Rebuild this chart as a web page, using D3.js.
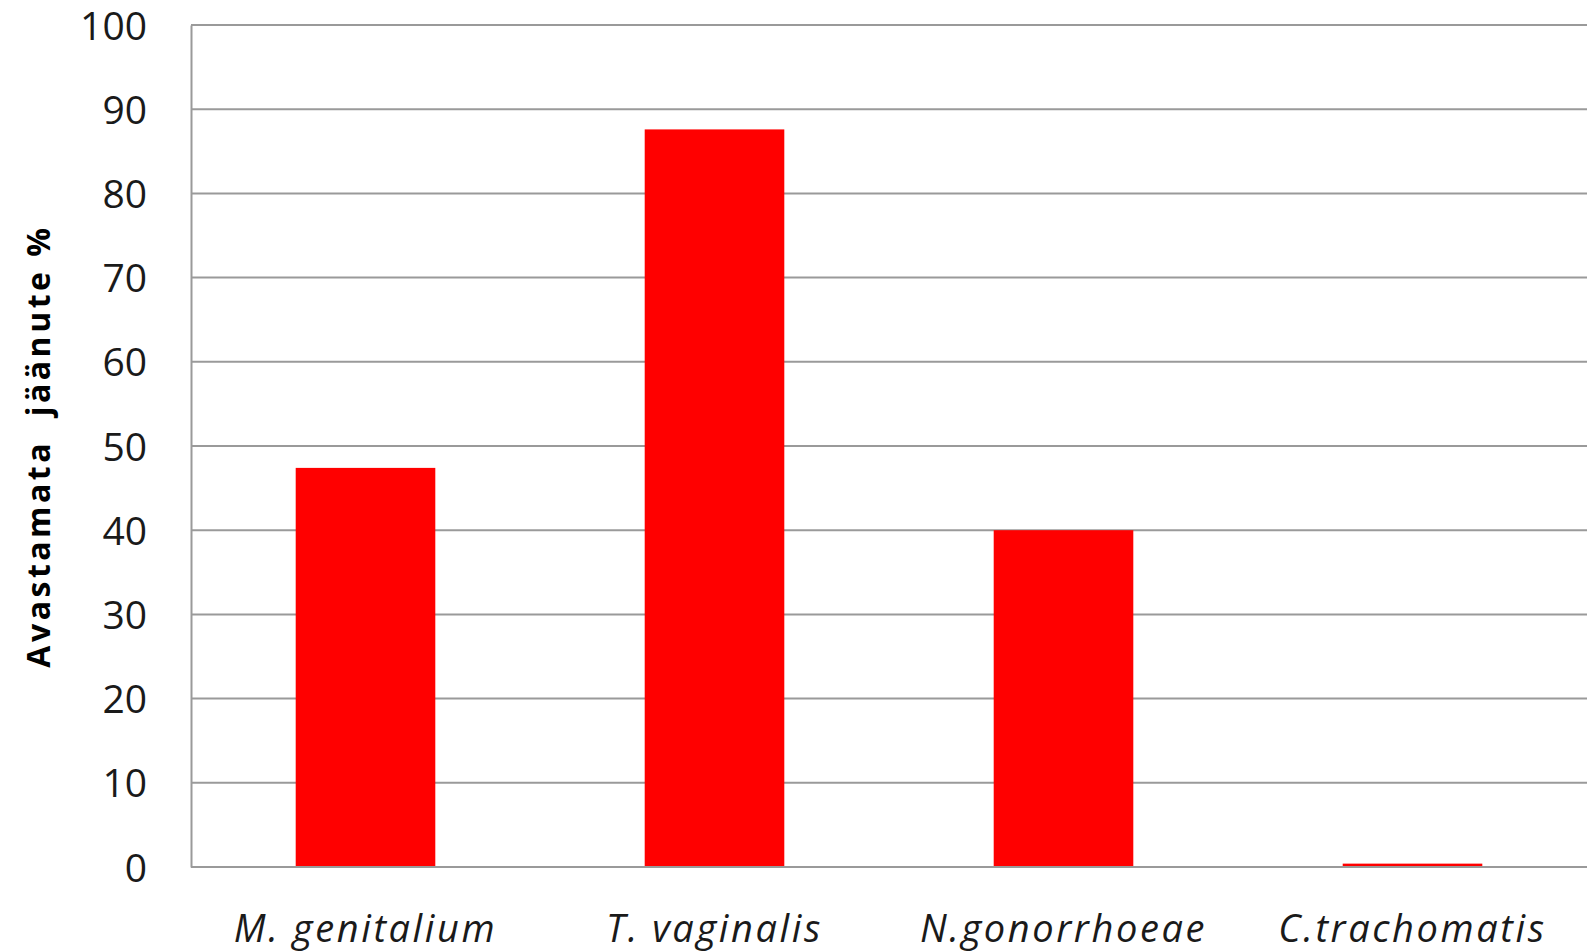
<!DOCTYPE html>
<html>
<head>
<meta charset="utf-8">
<script src="https://cdn.jsdelivr.net/npm/d3@7"></script>
<style>
  html, body { margin: 0; padding: 0; background: #fff; }
  svg { display: block; }
</style>
</head>
<body>
<svg id="chart" width="1589" height="952"></svg>
<script>
const categories = ["M. genitalium", "T. vaginalis", "N.gonorrhoeae", "C.trachomatis"];
const values = [47.4, 87.6, 40.0, 0.4];
const yTicks = [0, 10, 20, 30, 40, 50, 60, 70, 80, 90, 100];
const yTitle = "Avastamata\u00a0\u00a0jäänute %";

const svg = d3.select("#chart");
const plotLeft = 191, plotRight = 1587, plotTop = 25, plotBottom = 867;

const x = d3.scaleBand().domain(categories).range([plotLeft, plotRight]).paddingInner(0.6).paddingOuter(0.3);
const y = d3.scaleLinear().domain([0, 100]).range([plotBottom, plotTop]);

// gridlines
svg.append("g")
  .selectAll("line")
  .data(yTicks.filter(d => d > 0))
  .join("line")
  .attr("x1", plotLeft).attr("x2", plotRight)
  .attr("y1", d => y(d)).attr("y2", d => y(d))
  .attr("stroke", "#9a9a9a").attr("stroke-width", 2);

// bars
svg.append("g")
  .selectAll("rect")
  .data(categories)
  .join("rect")
  .attr("x", d => x(d))
  .attr("width", x.bandwidth())
  .attr("y", (d, i) => y(values[i]))
  .attr("height", (d, i) => y(0) - y(values[i]))
  .attr("fill", "#ff0000");

// y axis
const yAxis = svg.append("g")
  .attr("transform", `translate(${plotLeft},0)`)
  .call(d3.axisLeft(y).tickValues(yTicks).tickSize(0).tickPadding(44));
yAxis.select(".domain").attr("stroke", "#9a9a9a").attr("stroke-width", 2);
yAxis.selectAll("text")
  .attr("font-family", "'Open Sans', sans-serif")
  .attr("font-size", 39)
  .attr("fill", "#1a1a1a")
  .attr("dy", "0.36em");

// x axis
const xAxis = svg.append("g")
  .attr("transform", `translate(0,${plotBottom})`)
  .call(d3.axisBottom(x).tickSize(0).tickPadding(0));
xAxis.select(".domain").attr("stroke", "#9a9a9a").attr("stroke-width", 2)
  .attr("d", `M${plotLeft},0H${plotRight}`);
xAxis.selectAll("text")
  .attr("font-family", "'Open Sans', sans-serif")
  .attr("font-style", "italic")
  .attr("font-size", 38)
  .attr("letter-spacing", 2.6)
  .attr("fill", "#1a1a1a")
  .attr("dy", null)
  .attr("y", 75);

// y title
svg.append("text")
  .attr("transform", `translate(50,446) rotate(-90)`)
  .attr("text-anchor", "middle")
  .attr("font-family", "'Open Sans', sans-serif")
  .attr("font-weight", "bold")
  .attr("font-size", 32)
  .attr("letter-spacing", 3.5)
  .attr("fill", "#000")
  .text(yTitle);
</script>
</body>
</html>
